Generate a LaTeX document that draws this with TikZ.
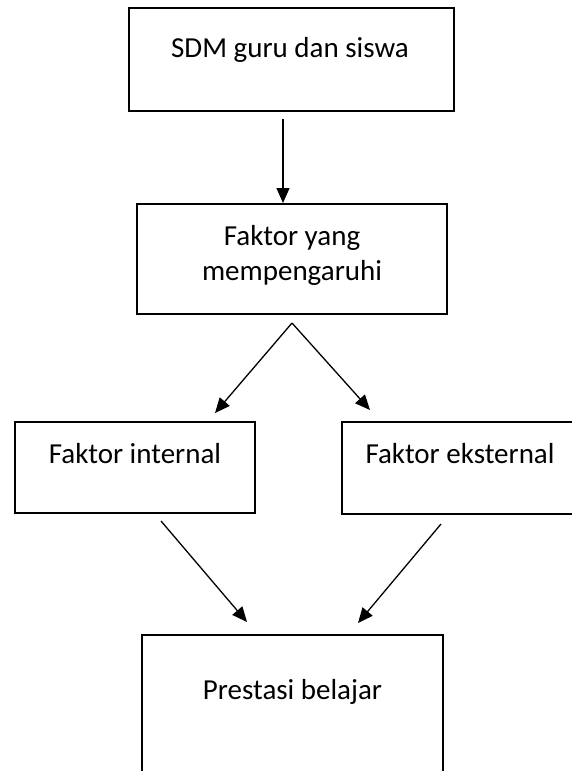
\documentclass[tikz,border=0pt]{standalone}
\usepackage{fontspec}
\setmainfont{Carlito}
\usetikzlibrary{arrows.meta}
\begin{document}
\begin{tikzpicture}[x=1pt,y=-1pt,
  box/.style={draw=black,line width=2.2pt,rectangle,inner sep=0pt},
  lbl/.style={anchor=base,inner sep=0pt,font=\fontsize{29}{35}\selectfont,align=center},
  arr/.style={line width=1.3pt,-{Triangle[length=15pt,width=13pt]}}]
\useasboundingbox (0,0) rectangle (571,771);
\node[box,minimum width=325pt,minimum height=103pt] (b1) at (291.5,59.5) {};
\node[box,minimum width=310pt,minimum height=110pt] (b2) at (292,259) {};
\node[box,minimum width=240pt,minimum height=91pt] (b3) at (135,467.5) {};
\node[box,minimum width=240pt,minimum height=92pt] (b4) at (462,468) {};
\node[box,minimum width=301pt,minimum height=160pt] (b5) at (292.5,715) {};
\node[lbl] (t1) at (290,57) {SDM guru dan siswa};
\node[lbl] (t2a) at (292,245) {Faktor yang};
\node[lbl] (t2b) at (292,280) {mempengaruhi};
\node[lbl] (t3) at (135,463) {Faktor internal};
\node[lbl] (t4) at (460,463) {Faktor eksternal};
\node[lbl] (t5) at (292.5,699) {Prestasi belajar};
\coordinate (a1s) at (283,119);
\coordinate (a1e) at (283,203);
\coordinate (apex) at (292,323);
\coordinate (a2e) at (215,413);
\coordinate (a3e) at (370,410);
\coordinate (a4s) at (161,521);
\coordinate (a4e) at (247,622);
\coordinate (a5s) at (441,524);
\coordinate (a5e) at (358,623);
\draw[arr] (a1s) -- (a1e);
\draw[arr] (apex) -- (a2e);
\draw[arr] (apex) -- (a3e);
\draw[arr] (a4s) -- (a4e);
\draw[arr] (a5s) -- (a5e);
\end{tikzpicture}
\end{document}
